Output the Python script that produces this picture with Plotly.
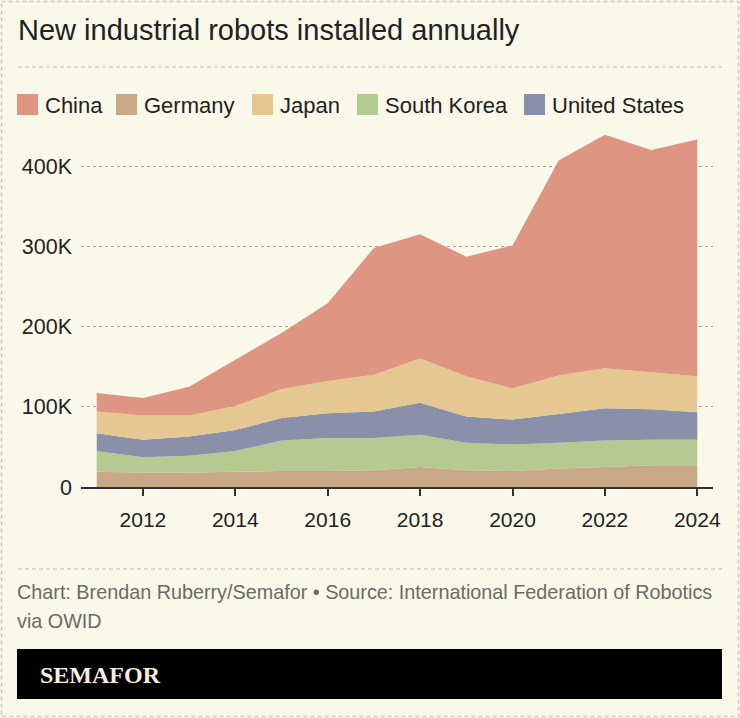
import plotly.graph_objects as go

# ---------------- data (thousands of robots) ----------------
years = list(range(2011, 2025))
germany = [19, 18, 18, 19, 20, 20, 21, 25, 21, 20, 23, 25, 27, 27]
south_korea = [26, 19, 21, 26, 38, 41, 40, 40, 34, 33, 32, 33, 32, 32]
united_states = [22, 22, 24, 26, 28, 31, 33, 40, 33, 31, 36, 40, 38, 34]
japan = [27, 30, 26, 30, 36, 40, 46, 55, 50, 39, 48, 50, 46, 45]
china = [23, 22, 36, 58, 70, 97, 158, 155, 149, 178, 268, 291, 277, 295]

x_tick_vals = [2012, 2014, 2016, 2018, 2020, 2022, 2024]
y_tick_vals = [0, 100000, 200000, 300000, 400000]
y_tick_text = ["0", "100K", "200K", "300K", "400K"]

title_text = "New industrial robots installed annually"
source_line1 = "Chart: Brendan Ruberry/Semafor • Source: International Federation of Robotics"
source_line2 = "via OWID"
brand = "SEMAFOR"

colors = {
    "China": "#DE9582",
    "Germany": "#C9A887",
    "Japan": "#E5C792",
    "South Korea": "#B5CA91",
    "United States": "#8B90AA",
}
stack_order = [("Germany", germany), ("South Korea", south_korea),
               ("United States", united_states), ("Japan", japan), ("China", china)]
legend_order = ["China", "Germany", "Japan", "South Korea", "United States"]

# ---------------- layout geometry ----------------
W, H = 740, 718
L, R, T, B = 81, 27, 130, 231
PW, PH = W - L - R, H - T - B
BG = "#FAF8E8"


def px(x):
    return (x - L) / PW


def py(y):
    return (H - B - y) / PH


fig = go.Figure()
for name, vals in stack_order:
    fig.add_trace(go.Scatter(
        x=years, y=[v * 1000 for v in vals], name=name,
        stackgroup="one", mode="lines",
        line=dict(width=0, color=colors[name]),
        fillcolor=colors[name], showlegend=False, hoverinfo="skip",
    ))

shapes = []
annotations = []

# outer dashed frame
shapes.append(dict(type="rect", xref="paper", yref="paper",
                   x0=px(1.5), x1=px(738.5), y0=py(1.5), y1=py(716.5),
                   line=dict(color="#CBC9BE", width=1.5, dash="4px,3px"),
                   fillcolor="rgba(0,0,0,0)", layer="below"))
# separators
for yy in (67, 569):
    shapes.append(dict(type="line", xref="paper", yref="paper",
                       x0=px(18), x1=px(722), y0=py(yy), y1=py(yy),
                       line=dict(color="#C2C0B5", width=1, dash="4px,3px")))
# black brand bar
shapes.append(dict(type="rect", xref="paper", yref="paper",
                   x0=px(17), x1=px(722), y0=py(649), y1=py(699),
                   line=dict(width=0), fillcolor="#000000"))

# title
annotations.append(dict(text=title_text, xref="paper", yref="paper",
                        x=px(16), y=py(30), xanchor="left", yanchor="middle",
                        showarrow=False,
                        font=dict(family="Liberation Sans, Arial, sans-serif", size=29, color="#222222")))

# legend (manual)
sq_x = [17, 116, 252, 357, 524]
for name, sx in zip(legend_order, sq_x):
    shapes.append(dict(type="rect", xref="paper", yref="paper",
                       x0=px(sx), x1=px(sx + 21), y0=py(94), y1=py(115),
                       line=dict(width=0), fillcolor=colors[name]))
    annotations.append(dict(text=name, xref="paper", yref="paper",
                            x=px(sx + 26), y=py(105), xanchor="left", yanchor="middle",
                            showarrow=False,
                            font=dict(family="Liberation Sans, Arial, sans-serif", size=22, color="#222222")))

# source
for txt, yy in ((source_line1, 592), (source_line2, 621)):
    annotations.append(dict(text=txt, xref="paper", yref="paper",
                            x=px(15), y=py(yy), xanchor="left", yanchor="middle",
                            showarrow=False,
                            font=dict(family="Liberation Sans, Arial, sans-serif", size=19.8, color="#6B6B66")))

# brand
annotations.append(dict(text="<b>" + brand + "</b>", xref="paper", yref="paper",
                        x=px(38), y=py(675), xanchor="left", yanchor="middle",
                        showarrow=False,
                        font=dict(family="Liberation Serif, serif", size=24, color="#F4EFDB")))

fig.update_layout(
    width=W, height=H,
    margin=dict(l=L, r=R, t=T, b=B, pad=0),
    paper_bgcolor=BG, plot_bgcolor=BG,
    showlegend=False,
    shapes=shapes, annotations=annotations,
    xaxis=dict(range=[2010.66, 2024.34], tickvals=x_tick_vals,
               showgrid=False, zeroline=False,
               showline=True, linecolor="#333333", linewidth=1.5,
               ticks="outside", ticklen=7, tickwidth=1.5, tickcolor="#333333",
               ticklabelstandoff=6,
               tickfont=dict(family="Liberation Sans, Arial, sans-serif", size=21, color="#222222"),
               fixedrange=True),
    yaxis=dict(range=[0, 444900], tickvals=y_tick_vals, ticktext=y_tick_text,
               showgrid=True, gridcolor="#A3A199", gridwidth=1, griddash="3px,3px",
               zeroline=False, showline=False, ticks="",
               ticklabelstandoff=8,
               tickfont=dict(family="Liberation Sans, Arial, sans-serif", size=21.5, color="#222222"),
               fixedrange=True),
    hovermode=False,
)

fig.write_html("out.html")
